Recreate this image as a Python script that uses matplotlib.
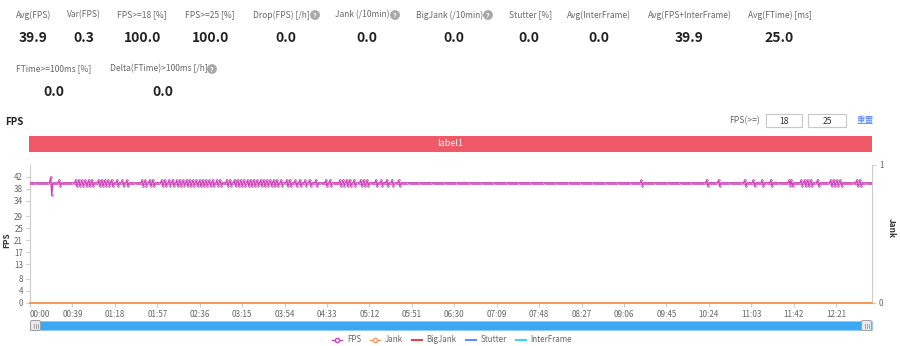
import matplotlib
matplotlib.use("Agg")
import matplotlib.pyplot as plt
from matplotlib.patches import Rectangle, FancyBboxPatch, Circle
from matplotlib.lines import Line2D
import numpy as np

plt.rcParams['font.family'] = ['Noto Sans CJK SC', 'DejaVu Sans']

# ---- summary figures ----
stat_labels_1 = ["Avg(FPS)", "Var(FPS)", "FPS>=18 [%]", "FPS>=25 [%]", "Drop(FPS) [/h]",
                 "Jank (/10min)", "BigJank (/10min)", "Stutter [%]", "Avg(InterFrame)",
                 "Avg(FPS+InterFrame)", "Avg(FTime) [ms]"]
stat_values_1 = ["39.9", "0.3", "100.0", "100.0", "0.0", "0.0", "0.0", "0.0", "0.0", "39.9", "25.0"]
stat_labels_2 = ["FTime>=100ms [%]", "Delta(FTime)>100ms [/h]"]
stat_values_2 = ["0.0", "0.0"]

# ---- time series (one sample per second) ----
n_samples = 775
fps_level = 40
fps_spike = {19: 42, 20: 36}
fps_peaks = [27, 42, 45, 48, 51, 54, 57, 63, 66, 69, 72, 75, 80, 85, 89,
             103, 106, 110, 113, 121, 124, 128, 131,
             135, 138, 141, 144, 147, 150, 153, 156, 159, 162, 165, 168,
             172, 175, 181, 184, 188,
             191, 194, 197, 200, 203, 206, 209, 212, 215, 218, 221, 224, 227,
             231, 236, 239, 244, 248, 253, 257,
             263, 272, 276, 285, 288, 291, 294, 298, 304, 307, 310, 318, 323, 328, 333, 339,
             562, 622, 633, 657, 665, 673, 681, 698, 700, 709, 712, 715, 718, 724,
             736, 739, 742, 745, 760, 763]
fps_dips = [28, 43, 46, 49, 52, 55, 58, 64, 67, 70, 73, 76, 81, 86, 90,
            104, 107, 111, 114, 122, 125, 129, 132,
            136, 139, 142, 145, 148, 151, 154, 157, 160, 163, 166, 169,
            173, 176, 182, 185, 189,
            192, 195, 198, 201, 204, 207, 210, 213, 216, 219, 222, 225, 228,
            232, 237, 240, 245, 249, 254, 258,
            264, 273, 277, 286, 289, 292, 295, 299, 305, 308, 311, 319, 324, 329, 334, 340,
            563, 623, 634, 658, 666, 674, 682, 699, 701, 710, 713, 716, 719, 725,
            737, 740, 743, 746, 761, 764]
jank = np.zeros(n_samples)
bigjank = np.zeros(n_samples)
stutter = np.zeros(n_samples)
interframe = np.zeros(n_samples)

fps_yticks = [0, 4, 8, 13, 17, 21, 25, 29, 34, 38, 42]
tick_step = 39
band_label = "label1"
thresholds = ["18", "25"]

fps = np.full(n_samples, float(fps_level))
fps[fps_peaks] = 41
fps[fps_dips] = 39
for k, v in fps_spike.items():
    fps[k] = v
t = np.arange(n_samples)

C_FPS = '#cc3fb8'
C_JANK = '#f39a5a'
C_BIG = '#e8434b'
C_STUT = '#5b8ff9'
C_INTER = '#3fd5e6'
GRID = '#cccccc'
TXT = '#666666'

W, H = 900, 346
fig = plt.figure(figsize=(W / 100, H / 100), dpi=100)

# overlay in pixel coordinates for header widgets
ov = fig.add_axes([0, 0, 1, 1])
ov.set_xlim(0, W)
ov.set_ylim(H, 0)
ov.axis('off')

# first row of stats
lab_x1 = [16, 67, 117, 185, 253, 335, 416, 509, 567, 648, 748]
val_x1 = [33, 84, 143, 211, 286, 367, 454, 529, 599, 689, 779]
icon_x1 = {4: 315, 5: 395, 6: 488}
for i, (lab, val) in enumerate(zip(stat_labels_1, stat_values_1)):
    ov.text(lab_x1[i], 15, lab, fontsize=6.1, color=TXT, va='center', ha='left')
    ov.text(val_x1[i], 38, val, fontsize=10, color='#222222', fontweight='bold',
            va='center', ha='center')
lab_x2 = [16, 110]
val_x2 = [54, 163]
icon_x2 = {1: 212}
for i, (lab, val) in enumerate(zip(stat_labels_2, stat_values_2)):
    ov.text(lab_x2[i], 69, lab, fontsize=6.1, color=TXT, va='center', ha='left')
    ov.text(val_x2[i], 92, val, fontsize=10, color='#222222', fontweight='bold',
            va='center', ha='center')


def help_icon(x, y):
    ov.add_patch(Circle((x, y), 4.2, color='#a8a8a8', zorder=3))
    ov.text(x, y + 0.3, '?', fontsize=5, color='white', fontweight='bold',
            ha='center', va='center', zorder=4)


for i, x in icon_x1.items():
    help_icon(x, 15)
for i, x in icon_x2.items():
    help_icon(x, 69)

# chart title and threshold inputs
ov.text(5, 122, "FPS", fontsize=7, fontweight='bold', color='#222222', va='center', ha='left')
ov.text(729, 121, "FPS(>=)", fontsize=6.2, color=TXT, va='center', ha='left')
for (x0, x1), val in zip([(766, 802), (808, 846)], thresholds):
    ov.add_patch(Rectangle((x0, 114), x1 - x0, 13, facecolor='white', edgecolor='#c8c8c8', lw=0.8))
    ov.text((x0 + x1) / 2, 121, val, fontsize=6.2, color='#333333', va='center', ha='center')
ov.text(865, 121, "重置", fontsize=6.2, color='#4a7cf7', va='center', ha='center')

# label band
ov.add_patch(Rectangle((29, 136), 843, 16, facecolor='#ef5866', edgecolor='none'))
ov.text(450, 144, band_label, fontsize=6.5, color='white', va='center', ha='center')

# slider
ov.add_patch(Rectangle((30, 321), 842, 9, facecolor='#3aa8f2', edgecolor='#8fcaf5', lw=0.5))
for hx in (30, 861):
    ov.add_patch(FancyBboxPatch((hx + 0.5, 320.5), 10, 10, boxstyle='round,pad=0,rounding_size=1.5',
                                facecolor='#e8e8e8', edgecolor='#a0a0a0', lw=0.7, zorder=3))
    for dx in (3.5, 5.5, 7.5):
        ov.plot([hx + dx, hx + dx], [323.5, 327.5], color='#888888', lw=0.5, zorder=4)

# main chart
ax = fig.add_axes([30 / W, 1 - 303 / H, 842 / W, 138 / H])
ax.set_facecolor('none')
ax.plot(t, fps, color=C_FPS, lw=1.0, marker='o', ms=1.3, mfc='#e9a3de', mec=C_FPS,
        mew=0.4, zorder=5)
ax.set_xlim(0, n_samples - 1)
ax.set_ylim(0, 46)
ax.set_yticks(fps_yticks)
ax.set_yticklabels([str(v) for v in fps_yticks])
xt = np.arange(0, n_samples, tick_step)
ax.set_xticks(xt)
ax.set_xticklabels([f"{v // 60:02d}:{v % 60:02d}" for v in xt])
ax.get_xticklabels()[0].set_horizontalalignment('left')
ax.tick_params(axis='both', labelsize=5.8, colors=GRID, labelcolor=TXT, length=3, width=0.8, pad=2)
for s in ('top', 'right'):
    ax.spines[s].set_visible(False)
for s in ('left', 'bottom'):
    ax.spines[s].set_color(GRID)
    ax.spines[s].set_linewidth(0.8)

ax2 = ax.twinx()
ax2.set_ylim(0, 1)
ax2.set_yticks([0, 1])
ax2.plot(t, interframe, color=C_INTER, lw=1.2, zorder=2)
ax2.plot(t, stutter, color=C_STUT, lw=1.2, zorder=2)
ax2.plot(t, bigjank, color=C_BIG, lw=1.2, zorder=2)
ax2.plot(t, jank, color=C_JANK, lw=1.4, zorder=3, clip_on=False)
ax2.tick_params(axis='y', labelsize=5.8, colors=GRID, labelcolor=TXT, length=3, width=0.8, pad=2)
for s in ('top', 'left', 'bottom'):
    ax2.spines[s].set_visible(False)
ax2.spines['right'].set_color(GRID)
ax2.spines['right'].set_linewidth(0.8)

fig.text(7 / W, 1 - 240 / H, "FPS", rotation=90, fontsize=6, fontweight='bold',
         color='#333333', ha='center', va='center')
fig.text(891 / W, 1 - 228 / H, "Jank", rotation=270, fontsize=6, fontweight='bold',
         color='#333333', ha='center', va='center')

# legend
handles = [
    Line2D([], [], color=C_FPS, lw=1, marker='o', ms=3, mfc='white', mec=C_FPS),
    Line2D([], [], color=C_JANK, lw=1, marker='o', ms=3, mfc='white', mec=C_JANK),
    Line2D([], [], color=C_BIG, lw=1.5),
    Line2D([], [], color=C_STUT, lw=1.5),
    Line2D([], [], color=C_INTER, lw=1.5),
]
fig.legend(handles, ["FPS", "Jank", "BigJank", "Stutter", "InterFrame"], loc='center',
           bbox_to_anchor=(452 / W, 1 - 340 / H), ncol=5, frameon=False, fontsize=5.8,
           handlelength=1.25, handletextpad=0.6, columnspacing=1.1, labelcolor=TXT)

fig.savefig("out.png", dpi=100)
